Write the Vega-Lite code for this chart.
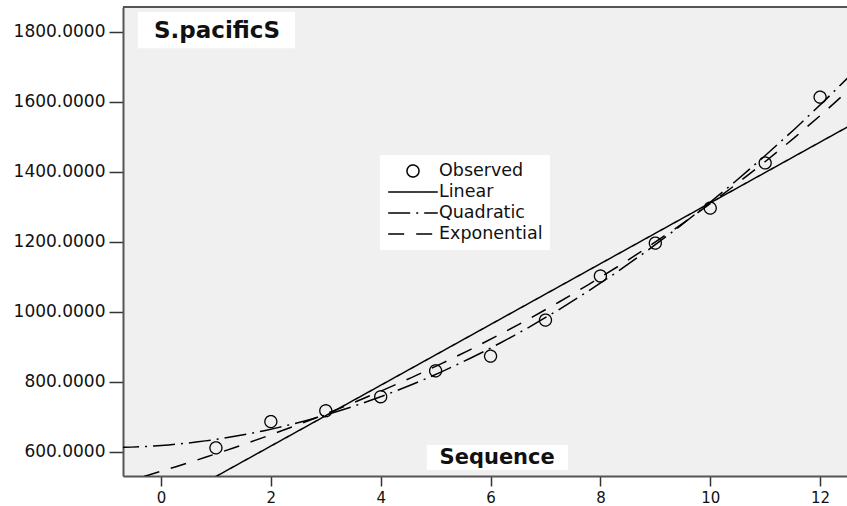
{
  "$schema": "https://vega.github.io/schema/vega-lite/v6.json",
  "width": 724,
  "height": 469,
  "autosize": {"type": "none"},
  "padding": {"left": 123, "top": 7, "right": 0, "bottom": 30},
  "background": "white",
  "config": {
    "view": {"fill": "#f0f0f0", "stroke": null},
    "font": "DejaVu Sans",
    "axisX": {"grid": false, "tickSize": 10, "tickWidth": 1.5, "tickColor": "#333", "domainColor": "#555", "domainWidth": 2, "labelFont": "DejaVu Sans", "labelFontSize": 15, "labelColor": "#111", "labelPadding": 4, "labelFlush": false},
    "axisY": {"grid": false, "tickSize": 14, "tickWidth": 1.5, "tickColor": "#333", "domainColor": "#555", "domainWidth": 2, "labelFont": "DejaVu Sans", "labelFontSize": 17, "labelColor": "#111", "labelPadding": 4, "labelFlush": false},
    "legend": {"title": null, "orient": "none", "legendX": 257, "legendY": 148, "fillColor": "white", "padding": 7, "labelFont": "DejaVu Sans", "labelFontSize": 17.5, "labelColor": "#111", "symbolSize": 256, "symbolStrokeColor": "black", "symbolStrokeWidth": 1.5, "symbolFillColor": "transparent", "symbolOffset": 17, "labelOffset": 17, "rowPadding": 3}
  },
  "datasets": {
    "obs": [
      {"x": 1, "y": 611},
      {"x": 2, "y": 686},
      {"x": 3, "y": 717},
      {"x": 4, "y": 757},
      {"x": 5, "y": 831},
      {"x": 6, "y": 873},
      {"x": 7, "y": 976},
      {"x": 8, "y": 1102},
      {"x": 9, "y": 1196},
      {"x": 10, "y": 1296},
      {"x": 11, "y": 1425},
      {"x": 12, "y": 1613}
    ],
    "titleText": [{"label": "S.pacificS"}],
    "axisText": [{"label": "Sequence"}]
  },
  "layer": [
    {
      "data": {"name": "obs"},
      "mark": {"type": "point", "filled": false, "stroke": "black", "strokeWidth": 1.3, "size": 256, "opacity": 1},
      "encoding": {
        "x": {"field": "x", "type": "quantitative", "title": null, "scale": {"domain": [-0.692, 12.49], "nice": false, "zero": false}, "axis": {"values": [0, 2, 4, 6, 8, 10, 12], "format": "d"}},
        "y": {"field": "y", "type": "quantitative", "title": null, "scale": {"domain": [530.6, 1870.6], "nice": false, "zero": false}, "axis": {"values": [600, 800, 1000, 1200, 1400, 1600, 1800], "format": ".4f"}},
        "shape": {"datum": "Observed", "type": "nominal",
          "scale": {"domain": ["Observed", "Linear", "Quadratic", "Exponential"], "range": ["M-0.75,0A0.75,0.75 0 1,0 0.75,0A0.75,0.75 0 1,0 -0.75,0Z", "M-3.1,0H3.1", "M-3.1,0H3.1", "M-3.1,0H3.1"]},
          "legend": {"title": null}},
        "strokeDash": {"datum": "Observed", "type": "nominal",
          "scale": {"domain": ["Observed", "Linear", "Quadratic", "Exponential"], "range": [[1, 0], [1, 0], [22, 6, 2, 6], [16, 12]]},
          "legend": {"title": null}}
      }
    },
    {
      "data": {"name": "obs"},
      "transform": [{"regression": "y", "on": "x", "method": "linear", "extent": [-0.8, 12.6]}],
      "mark": {"type": "line", "color": "black", "strokeWidth": 1.5, "clip": true},
      "encoding": {
        "x": {"field": "x", "type": "quantitative", "title": null, "scale": {"domain": [-0.692, 12.49], "nice": false, "zero": false}, "axis": {"values": [0, 2, 4, 6, 8, 10, 12], "format": "d"}},
        "y": {"field": "y", "type": "quantitative", "title": null, "scale": {"domain": [530.6, 1870.6], "nice": false, "zero": false}, "axis": {"values": [600, 800, 1000, 1200, 1400, 1600, 1800], "format": ".4f"}},
        "strokeDash": {"datum": "Linear", "type": "nominal",
          "scale": {"domain": ["Observed", "Linear", "Quadratic", "Exponential"], "range": [[1, 0], [1, 0], [22, 6, 2, 6], [16, 12]]},
          "legend": {"title": null}}
      }
    },
    {
      "data": {"name": "obs"},
      "transform": [{"regression": "y", "on": "x", "method": "quad", "extent": [-0.8, 12.6]}],
      "mark": {"type": "line", "color": "black", "strokeWidth": 1.5, "clip": true},
      "encoding": {
        "x": {"field": "x", "type": "quantitative", "title": null, "scale": {"domain": [-0.692, 12.49], "nice": false, "zero": false}, "axis": {"values": [0, 2, 4, 6, 8, 10, 12], "format": "d"}},
        "y": {"field": "y", "type": "quantitative", "title": null, "scale": {"domain": [530.6, 1870.6], "nice": false, "zero": false}, "axis": {"values": [600, 800, 1000, 1200, 1400, 1600, 1800], "format": ".4f"}},
        "strokeDash": {"datum": "Quadratic", "type": "nominal",
          "scale": {"domain": ["Observed", "Linear", "Quadratic", "Exponential"], "range": [[1, 0], [1, 0], [22, 6, 2, 6], [16, 12]]},
          "legend": {"title": null}}
      }
    },
    {
      "data": {"name": "obs"},
      "transform": [{"regression": "y", "on": "x", "method": "exp", "extent": [-0.8, 12.6]}],
      "mark": {"type": "line", "color": "black", "strokeWidth": 1.5, "clip": true},
      "encoding": {
        "x": {"field": "x", "type": "quantitative", "title": null, "scale": {"domain": [-0.692, 12.49], "nice": false, "zero": false}, "axis": {"values": [0, 2, 4, 6, 8, 10, 12], "format": "d"}},
        "y": {"field": "y", "type": "quantitative", "title": null, "scale": {"domain": [530.6, 1870.6], "nice": false, "zero": false}, "axis": {"values": [600, 800, 1000, 1200, 1400, 1600, 1800], "format": ".4f"}},
        "strokeDash": {"datum": "Exponential", "type": "nominal",
          "scale": {"domain": ["Observed", "Linear", "Quadratic", "Exponential"], "range": [[1, 0], [1, 0], [22, 6, 2, 6], [16, 12]]},
          "legend": {"title": null}}
      }
    },
    {
      "data": {"name": "titleText"},
      "mark": {"type": "rect", "fill": "white"},
      "encoding": {
        "x": {"datum": -0.42, "type": "quantitative", "title": null, "scale": {"domain": [-0.692, 12.49], "nice": false, "zero": false}, "axis": {"values": [0, 2, 4, 6, 8, 10, 12], "format": "d"}},
        "x2": {"datum": 2.44},
        "y": {"datum": 1856, "type": "quantitative", "title": null, "scale": {"domain": [530.6, 1870.6], "nice": false, "zero": false}, "axis": {"values": [600, 800, 1000, 1200, 1400, 1600, 1800], "format": ".4f"}},
        "y2": {"datum": 1753}
      }
    },
    {
      "data": {"name": "titleText"},
      "mark": {"type": "text", "font": "DejaVu Sans", "fontWeight": "bold", "fontSize": 23, "align": "center", "baseline": "middle", "color": "#111"},
      "encoding": {
        "x": {"datum": 1.02, "type": "quantitative", "title": null, "scale": {"domain": [-0.692, 12.49], "nice": false, "zero": false}, "axis": {"values": [0, 2, 4, 6, 8, 10, 12], "format": "d"}},
        "y": {"datum": 1802, "type": "quantitative", "title": null, "scale": {"domain": [530.6, 1870.6], "nice": false, "zero": false}, "axis": {"values": [600, 800, 1000, 1200, 1400, 1600, 1800], "format": ".4f"}},
        "text": {"field": "label"}
      }
    },
    {
      "data": {"name": "axisText"},
      "mark": {"type": "rect", "fill": "white"},
      "encoding": {
        "x": {"datum": 4.84, "type": "quantitative", "title": null, "scale": {"domain": [-0.692, 12.49], "nice": false, "zero": false}, "axis": {"values": [0, 2, 4, 6, 8, 10, 12], "format": "d"}},
        "x2": {"datum": 7.41},
        "y": {"datum": 619, "type": "quantitative", "title": null, "scale": {"domain": [530.6, 1870.6], "nice": false, "zero": false}, "axis": {"values": [600, 800, 1000, 1200, 1400, 1600, 1800], "format": ".4f"}},
        "y2": {"datum": 548}
      }
    },
    {
      "data": {"name": "axisText"},
      "mark": {"type": "text", "font": "DejaVu Sans", "fontWeight": "bold", "fontSize": 21, "align": "center", "baseline": "middle", "color": "#111"},
      "encoding": {
        "x": {"datum": 6.12, "type": "quantitative", "title": null, "scale": {"domain": [-0.692, 12.49], "nice": false, "zero": false}, "axis": {"values": [0, 2, 4, 6, 8, 10, 12], "format": "d"}},
        "y": {"datum": 583, "type": "quantitative", "title": null, "scale": {"domain": [530.6, 1870.6], "nice": false, "zero": false}, "axis": {"values": [600, 800, 1000, 1200, 1400, 1600, 1800], "format": ".4f"}},
        "text": {"field": "label"}
      }
    },
    {
      "data": {"name": "titleText"},
      "mark": {"type": "rule", "color": "#555", "strokeWidth": 2},
      "encoding": {
        "y": {"datum": 1870.6, "type": "quantitative", "title": null, "scale": {"domain": [530.6, 1870.6], "nice": false, "zero": false}, "axis": {"values": [600, 800, 1000, 1200, 1400, 1600, 1800], "format": ".4f"}}
      }
    }
  ]
}
